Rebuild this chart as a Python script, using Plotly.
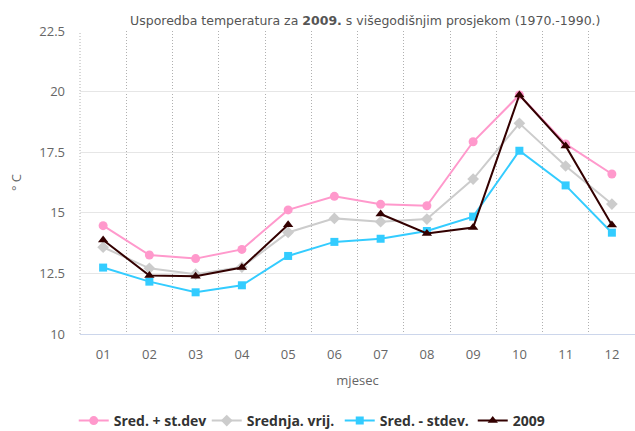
import plotly.graph_objects as go

months = ["01", "02", "03", "04", "05", "06", "07", "08", "09", "10", "11", "12"]
sred_plus = [14.47, 13.26, 13.11, 13.49, 15.12, 15.68, 15.35, 15.29, 17.93, 19.86, 17.84, 16.60]
srednja = [13.58, 12.71, 12.47, 12.76, 14.19, 14.77, 14.63, 14.74, 16.39, 18.69, 16.93, 15.36]
sred_minus = [12.74, 12.16, 11.72, 12.01, 13.22, 13.80, 13.93, 14.25, 14.84, 17.56, 16.13, 14.18]
y2009 = [13.88, 12.41, 12.38, 12.74, 14.51, None, 14.95, 14.15, 14.39, 19.86, 17.76, 14.50]
y_ticks = [10, 12.5, 15, 17.5, 20, 22.5]

FONT = "Open Sans"
TFONT = "DejaVu Sans"

fig = go.Figure()
fig.add_trace(go.Scatter(x=months, y=sred_plus, name="Sred. + st.dev", mode="lines+markers",
                         line=dict(color="#ff99cc", width=2),
                         marker=dict(symbol="circle", size=9, color="#ff99cc")))
fig.add_trace(go.Scatter(x=months, y=srednja, name="Srednja. vrij.", mode="lines+markers",
                         line=dict(color="#cccccc", width=2),
                         marker=dict(symbol="diamond", size=9, color="#cccccc")))
fig.add_trace(go.Scatter(x=months, y=sred_minus, name="Sred. - stdev.", mode="lines+markers",
                         line=dict(color="#33ccff", width=2),
                         marker=dict(symbol="square", size=8, color="#33ccff")))
fig.add_trace(go.Scatter(x=months, y=y2009, name="2009", mode="lines+markers",
                         connectgaps=False,
                         line=dict(color="#330000", width=2),
                         marker=dict(symbol="triangle-up", size=9, color="#330000")))

# dotted boundary line on the left edge of the plot area
fig.add_shape(type="line", xref="paper", yref="paper", x0=0, x1=0, y0=0, y1=1,
              line=dict(color="#b0b0b0", width=1, dash="1px,2px"), layer="below")

fig.update_layout(
    width=635, height=431,
    margin=dict(l=80, r=0, t=31, b=97, autoexpand=False),
    paper_bgcolor="white", plot_bgcolor="white",
    font=dict(family=FONT, size=13, color="#666666"),
    showlegend=True,
    title=dict(text="Usporedba temperatura za <b>2009.</b> s višegodišnjim prosjekom (1970.-1990.)",
               font=dict(family=TFONT, size=12.5, color="#555555"),
               x=0.514, xref="paper", xanchor="center",
               y=1 - 21 / 431, yref="container", yanchor="middle", automargin=False),
    legend=dict(orientation="h", x=0.468, xanchor="center", y=-0.287, yanchor="middle",
                font=dict(family=FONT, size=14, color="#333333", weight="bold"),
                entrywidth=88, entrywidthmode="pixels",
                bgcolor="rgba(0,0,0,0)"),
    xaxis=dict(type="category", range=[-0.5, 11.5], tickson="boundaries",
               showgrid=True, gridcolor="#b0b0b0", griddash="1px,2px", gridwidth=1,
               showline=True, linecolor="#ccd6eb", linewidth=1,
               ticks="", ticklabelstandoff=8, automargin=False,
               tickfont=dict(size=13, color="#666666"),
               title=dict(text="mjesec", font=dict(size=13, color="#666666"), standoff=14),
               fixedrange=True),
    yaxis=dict(range=[10, 22.5], tickvals=y_ticks, ticktext=[str(v) for v in y_ticks],
               showgrid=True, gridcolor="#e6e6e6", gridwidth=1, zeroline=False,
               showline=False, ticks="", ticklabelstandoff=14, automargin=False,
               tickfont=dict(size=13, color="#666666"),
               title=dict(text="° C", font=dict(size=13, color="#666666"), standoff=14),
               fixedrange=True),
)

fig.write_html("out.html", config={"displayModeBar": False},
               post_script="document.body.style.margin='0';")
